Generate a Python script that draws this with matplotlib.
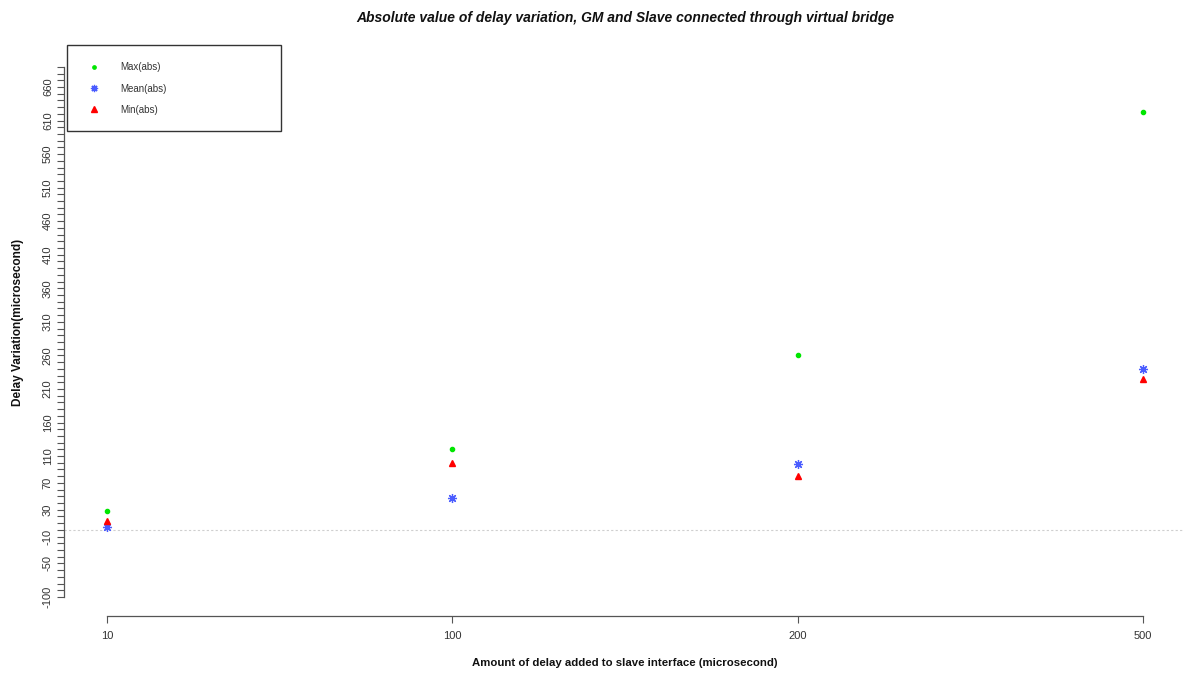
import matplotlib
matplotlib.use("Agg")
import matplotlib.pyplot as plt
from matplotlib.patches import Rectangle
import numpy as np

# ---- data ----
delay_labels = ["10", "100", "200", "500"]
max_abs = [28, 120, 260, 622]
mean_abs = [5, 47, 98, 240]
min_abs = [13, 100, 81, 225]

ytick_values = list(range(-100, 700, 10))
ytick_shown = [-100, -50, -10, 30, 70, 110, 160, 210, 260, 310, 360, 410,
               460, 510, 560, 610, 660]

W, H = 1184, 675
plt.rcParams['font.family'] = ['Liberation Sans', 'DejaVu Sans']

fig = plt.figure(figsize=(W / 100, H / 100), dpi=100)

def fx(px):
    return px / W

def fy(py):
    return 1 - py / H

ax = fig.add_axes([fx(64), fy(616), fx(1184) - fx(64), fy(40) - fy(616)])

pos = np.arange(1, len(delay_labels) + 1)

ax.axhline(0, color='#cfcfcf', lw=0.8, ls=(0, (2, 2)), zorder=1)

h1, = ax.plot(pos, max_abs, ls='none', marker='o', ms=3.0, color='#00e600',
              mec='#00e600', label='Max(abs)', zorder=3)
h2, = ax.plot(pos, mean_abs, ls='none', marker=(8, 2, 0), ms=6.5, color='#4a5cff',
              mew=0.9, label='Mean(abs)', zorder=3)
h3, = ax.plot(pos, min_abs, ls='none', marker='^', ms=4.8, color='#ff0000',
              mec='#ff0000', label='Min(abs)', zorder=3)

ax.set_xlim(1 - (107 - 64) / 345.33, 4 + (1184 - 1143) / 345.33)
ax.set_ylim(660 - (616 - 87) / 0.671, 660 + (87 - 40) / 0.671)

for s in ['top', 'right']:
    ax.spines[s].set_visible(False)
ax.spines['left'].set_bounds(ytick_values[0], ytick_values[-1])
ax.spines['bottom'].set_bounds(1, 4)
for s in ['left', 'bottom']:
    ax.spines[s].set_color('#555555')
    ax.spines[s].set_linewidth(0.9)

ax.set_xticks(pos)
ax.set_xticklabels(delay_labels)
ax.set_yticks(ytick_values)
ax.set_yticklabels([str(v) if v in ytick_shown else '' for v in ytick_values],
                   rotation=90, va='center')
ax.tick_params(axis='both', direction='out', color='#555555', width=0.8,
               labelsize=8, labelcolor='#333333')
ax.tick_params(axis='y', length=5, pad=3)
ax.tick_params(axis='x', length=5, pad=6)

fig.text(fx(625), fy(18), "Absolute value of delay variation, GM and Slave connected through virtual bridge",
         ha='center', va='center', fontsize=10, fontweight='bold', style='italic', color='#111111')
fig.text(fx(625), fy(663), "Amount of delay added to slave interface (microsecond)",
         ha='center', va='center', fontsize=8.2, fontweight='bold', color='#111111')
fig.text(fx(18), fy(322), "Delay Variation(microsecond)", rotation=90,
         ha='center', va='center', fontsize=8.6, fontweight='bold', color='#111111')

# legend box
fig.add_artist(Rectangle((fx(67), fy(131)), fx(281) - fx(67), fy(45) - fy(131),
                         transform=fig.transFigure, fill=True, facecolor='white',
                         edgecolor='#333333', lw=1.0, zorder=5))
leg = fig.legend(handles=[h1, h2, h3], loc='upper left', bbox_to_anchor=(fx(67), fy(45)),
                 bbox_transform=fig.transFigure, frameon=False, fontsize=7,
                 borderpad=1.78, handlelength=2.0, handletextpad=1.68,
                 labelspacing=1.16, borderaxespad=0, markerscale=0.8)
leg.set_zorder(6)
for t in leg.get_texts():
    t.set_color('#333333')

fig.savefig("out.png", dpi=100)
